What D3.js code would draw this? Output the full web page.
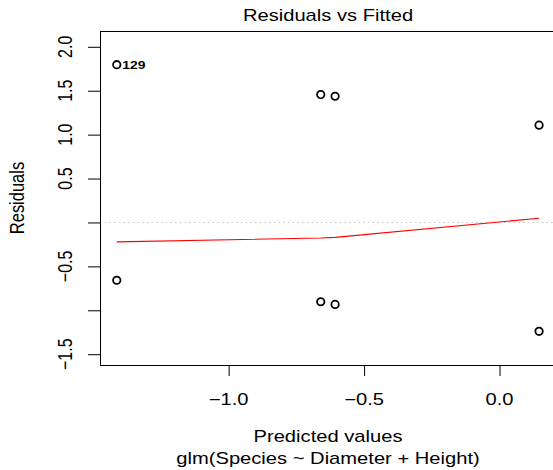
<!DOCTYPE html>
<html>
<head>
<meta charset="utf-8">
<script src="https://cdn.jsdelivr.net/npm/d3@7"></script>
<style>
  html, body { margin: 0; padding: 0; background: #fff; }
  svg { display: block; }
  text { font-family: "Liberation Sans", Arial, Helvetica, sans-serif; fill: #000; }
</style>
</head>
<body>
<svg id="chart" width="553" height="470"></svg>
<script>
// Fitted values (linear predictor) and residuals of the model
const fitted    = [-1.413, -1.413, -0.660, -0.607, -0.660, -0.607, 0.146, 0.146];
const residuals = [ 1.796, -0.658,  1.456,  1.437, -0.903, -0.933, 1.108, -1.239];

// Lowess smoother through the residuals
const smoothX = [-1.413, -0.660, -0.607, 0.146];
const smoothY = [-0.221, -0.177, -0.170, 0.048];

// Observation flagged with the largest residual
const idIndex  = [0];
const idLabels = ["129"];

const xTicks = [-1.0, -0.5, 0.0];
const yTicks = [-1.5, -1.0, -0.5, 0.0, 0.5, 1.0, 1.5, 2.0];
// labels that fit without overlapping their neighbours
const yTickLabels = ["\u22121.5", "", "\u22120.5", "", "0.5", "1.0", "1.5", "2.0"];

const mainTitle = "Residuals vs Fitted";
const xLabel = "Predicted values";
const subLabel = "glm(Species ~ Diameter + Height)";
const yLabel = "Residuals";

// Text is drawn slightly widened horizontally
const SX = 1.26;

const svg = d3.select("#chart");
const box = { left: 100, right: 556, top: 31, bottom: 365 };

const x = d3.scaleLinear().domain([-1.4749, 0.2085]).range([box.left, box.right]);
const y = d3.scaleLinear().domain([-1.623, 2.180]).range([box.bottom, box.top]);

// zero reference line
svg.append("line")
  .attr("x1", box.left).attr("x2", box.right)
  .attr("y1", y(0)).attr("y2", y(0))
  .attr("stroke", "#c4c4c4").attr("stroke-width", 1)
  .attr("stroke-dasharray", "1.5,3.2");

// smoother
const line = d3.line().x(d => x(d[0])).y(d => y(d[1]));
svg.append("path")
  .datum(d3.zip(smoothX, smoothY))
  .attr("d", line)
  .attr("fill", "none")
  .attr("stroke", "#ff0000")
  .attr("stroke-width", 1.1);

// points
svg.append("g").selectAll("circle")
  .data(d3.zip(fitted, residuals))
  .join("circle")
  .attr("cx", d => x(d[0]))
  .attr("cy", d => y(d[1]))
  .attr("r", 3.7)
  .attr("fill", "none")
  .attr("stroke", "#000")
  .attr("stroke-width", 1.8);

// point labels
svg.append("g").selectAll("text")
  .data(idLabels)
  .join("text")
  .attr("transform", (d, i) => `translate(${x(fitted[idIndex[i]]) + 5.5},${y(residuals[idIndex[i]]) + 4}) scale(${SX},1)`)
  .attr("font-size", 11)
  .attr("font-weight", "bold")
  .text(d => d);

// plot frame
svg.append("rect")
  .attr("x", box.left + 0.5).attr("y", box.top + 0.5)
  .attr("width", box.right - box.left).attr("height", box.bottom - box.top)
  .attr("fill", "none").attr("stroke", "#000").attr("stroke-width", 1);

// axes (ticks from d3 axes, labels placed in R style)
const xAxis = svg.append("g")
  .attr("transform", `translate(0,${box.bottom})`)
  .call(d3.axisBottom(x).tickValues(xTicks).tickSize(11).tickFormat(""));
xAxis.select(".domain").remove();

const yAxis = svg.append("g")
  .attr("transform", `translate(${box.left},0)`)
  .call(d3.axisLeft(y).tickValues(yTicks).tickSize(12).tickFormat(""));
yAxis.select(".domain").remove();

const fmt = d3.format(".1f");

svg.append("g").selectAll("text")
  .data(xTicks)
  .join("text")
  .attr("transform", d => `translate(${x(d)},405) scale(${SX},1)`)
  .attr("text-anchor", "middle")
  .attr("font-size", 16)
  .text(d => fmt(d));

svg.append("g").selectAll("text")
  .data(d3.zip(yTicks, yTickLabels).filter(d => d[1] !== ""))
  .join("text")
  .attr("transform", d => `translate(72,${y(d[0])}) scale(${SX},1) rotate(-90)`)
  .attr("text-anchor", "middle")
  .attr("font-size", 16)
  .text(d => d[1]);

// titles
const cx = (box.left + box.right) / 2;
svg.append("text")
  .attr("transform", `translate(${cx},21) scale(${SX},1)`)
  .attr("text-anchor", "middle").attr("font-size", 16)
  .text(mainTitle);

svg.append("text")
  .attr("transform", `translate(${cx},442) scale(${SX},1)`)
  .attr("text-anchor", "middle").attr("font-size", 16)
  .text(xLabel);

svg.append("text")
  .attr("transform", `translate(${cx},464) scale(${SX},1)`)
  .attr("text-anchor", "middle").attr("font-size", 16)
  .text(subLabel);

svg.append("text")
  .attr("transform", `translate(24,${(box.top + box.bottom) / 2}) scale(${SX},1) rotate(-90)`)
  .attr("text-anchor", "middle").attr("font-size", 16.5)
  .text(yLabel);
</script>
</body>
</html>
